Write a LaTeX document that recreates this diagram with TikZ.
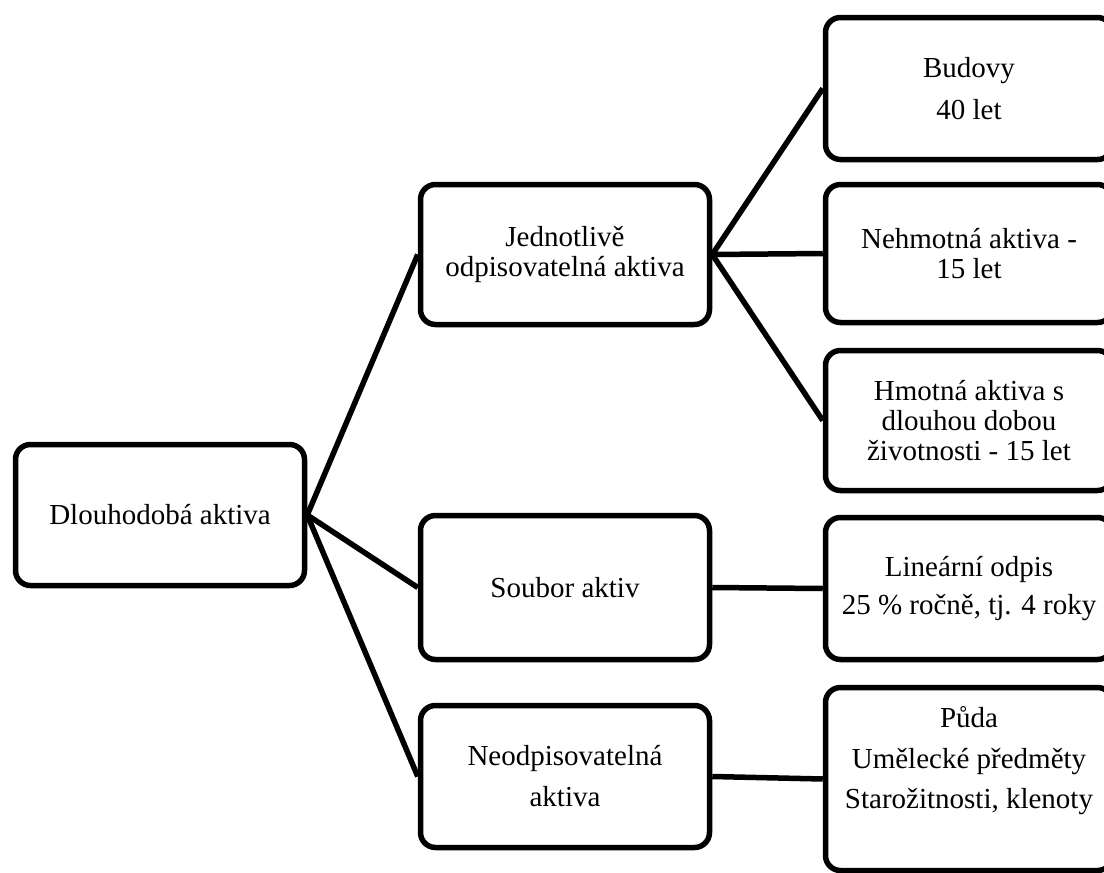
\documentclass[tikz,border=0pt]{standalone}
\usepackage{fontspec}
\setmainfont{Liberation Serif}
\begin{document}
\begin{tikzpicture}[x=1pt,y=-1pt,
  box/.style={draw=black, line width=5.5pt, rounded corners=15pt, fill=white,
    align=center, font=\fontsize{29}{30}\selectfont, inner sep=0pt},
  txt/.style={align=center, font=\fontsize{29}{30}\selectfont, inner sep=0pt},
  conn/.style={draw=black, line width=5.5pt}]
\useasboundingbox (0,0) rectangle (1104,873);
% left
\node[box, minimum width=289pt, minimum height=141pt] (root) at (160,515) {Dlouhodobá aktiva};
% middle
\node[box, minimum width=289pt, minimum height=140pt] (jed) at (565,254.5) {Jednotlivě\\odpisovatelná aktiva};
\node[box, minimum width=289pt, minimum height=144pt] (sou) at (565,587.5) {Soubor aktiv};
\node[box, minimum width=289pt, minimum height=142pt] (neo) at (565,776.5) {Neodpisovatelná\\[11pt]aktiva};
% right
\node[box, minimum width=287pt, minimum height=142pt] (bud) at (969,88.5) {Budovy\\[12pt]40 let};
\node[box, minimum width=287pt, minimum height=138pt] (neh) at (969,253.5) {Nehmotná aktiva -\\15 let};
\node[box, minimum width=287pt, minimum height=140pt] (hmo) at (969,420.5) {Hmotná aktiva s\\dlouhou dobou\\životnosti - 15 let};
\node[box, minimum width=287pt, minimum height=142pt] (lin) at (969,588.5) {Lineární odpis\\[8pt]25 \% ročně, tj. 4 roky};
\node[box, minimum width=287pt, minimum height=183pt] (pud) at (969,779) {};
\node[txt] (pudtext) at (969,761) {Půda\\[11pt]Umělecké předměty\\[10pt]Starožitnosti, klenoty};
% connectors
\draw[conn] (root.east) -- (jed.west);
\draw[conn] (root.east) -- (sou.west);
\draw[conn] (root.east) -- (neo.west);
\draw[conn] (jed.east) -- (bud.west);
\draw[conn] (jed.east) -- (neh.west);
\draw[conn] (jed.east) -- (hmo.west);
\draw[conn] (sou.east) -- (lin.west);
\draw[conn] (neo.east) -- (pud.west);
\end{tikzpicture}
\end{document}
